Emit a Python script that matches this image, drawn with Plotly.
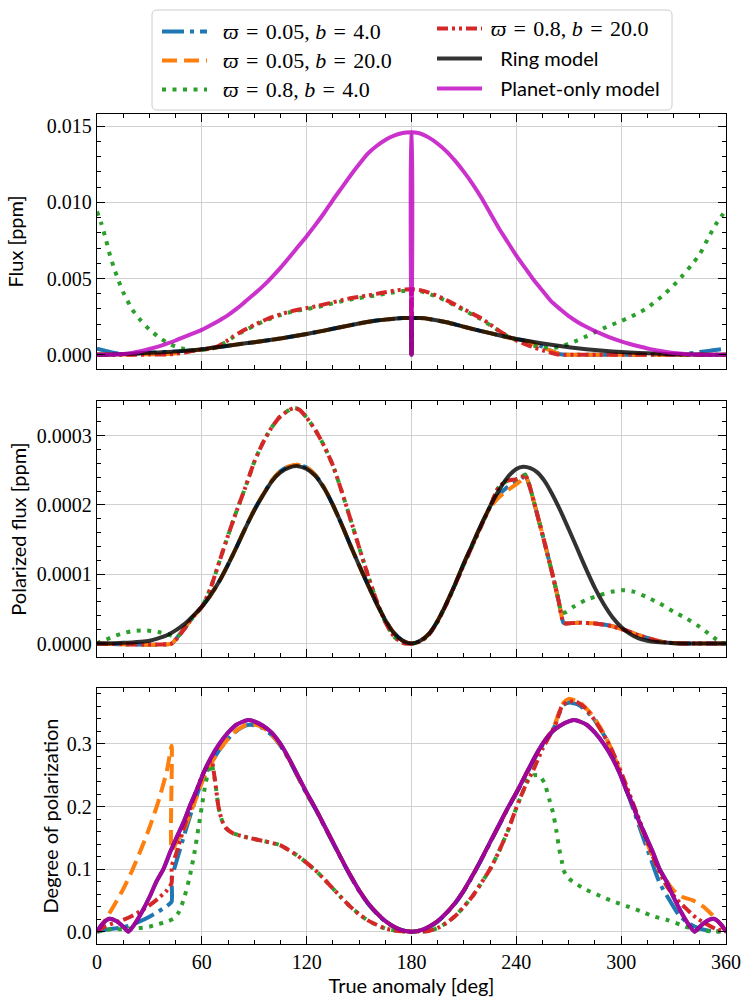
import plotly.graph_objects as go

# ------------------------------------------------------------------ data
# Legend labels
SP = "\u2004"  # three-per-em space (TeX-like spacing around '=')
SERIF22 = '<span style="font-family:Liberation Serif;font-size:22px">'
NAME_B1 = SERIF22 + f"\u2002<i>ϖ</i>{SP}={SP}0.05, <i>b</i>{SP}={SP}4.0</span>"
NAME_B2 = SERIF22 + f"\u2002<i>ϖ</i>{SP}={SP}0.05, <i>b</i>{SP}={SP}20.0</span>"
NAME_G = SERIF22 + f"\u2002<i>ϖ</i>{SP}={SP}0.8, <i>b</i>{SP}={SP}4.0</span>"
NAME_R = SERIF22 + f"\u2006<i>ϖ</i>{SP}={SP}0.8, <i>b</i>{SP}={SP}20.0</span>"
NAME_RING = '<span style="font-family:Liberation Serif">\u2002\u2006</span>Ring model'
NAME_PLANET = '<span style="font-family:Liberation Serif">\u2002\u2006</span>Planet-only model'

X_TICKS = [0, 60, 120, 180, 240, 300, 360]

# ---- Flux [ppm]
FLUX_RING_X = [0,10,20,30,40,50,60,70,80,90,100,110,120,130,140,150,160,170,175,179.5,179.9,180,180.1,180.5,185,190,200,210,220,230,240,250,260,270,280,290,300,310,320,330,340,350,360]
FLUX_RING_Y = [0,0.00002,0.00006,0.00012,0.00018,0.00025,0.00036,0.00051,0.00067,0.00082,0.00098,0.00116,0.00136,0.00158,0.00182,0.00205,0.00224,0.00236,0.0024,0.00241,0.00241,0,0.00241,0.00241,0.0024,0.00234,0.00213,0.00183,0.00155,0.00128,0.00103,0.00083,0.00065,0.00049,0.00036,0.00026,0.000175,0.00011,0.00007,0.00003,0.00001,0.000002,0]

FLUX_PLANET_X = [0,10,15,20,25,30,35,40,45,50,55,60,65,70,75,80,85,90,95,100,105,110,115,120,125,130,135,140,145,150,155,160,165,170,175,179.5,179.9,180,180.1,180.5,185,190,195,200,205,210,215,220,225,230,235,240,245,250,255,260,265,270,275,280,285,290,295,300,305,310,315,320,325,330,335,340,345,350,360]
FLUX_PLANET_Y = [0,0.00001,0.00004,0.00012,0.00023,0.00037,0.00053,0.00072,0.00093,0.00117,0.0014,0.00163,0.00193,0.00225,0.0026,0.00302,0.0035,0.00398,0.0045,0.00508,0.0057,0.00638,0.00708,0.00778,0.00852,0.0093,0.01015,0.01095,0.01175,0.0125,0.0132,0.0137,0.0141,0.01438,0.01455,0.0146,0.0146,0,0.0146,0.0146,0.01452,0.01425,0.01385,0.01335,0.01272,0.012,0.0112,0.0103,0.0093,0.0083,0.0074,0.0065,0.0057,0.0049,0.0042,0.0035,0.003,0.00253,0.00215,0.00183,0.00155,0.0013,0.00107,0.00087,0.0007,0.00055,0.00041,0.00029,0.00019,0.00011,0.00006,0.00002,0.000005,0,0]

FLUX_B1_X = [0,5,10,15,20,30,40,50,60,70,80,90,100,110,120,130,140,150,160,170,175,179.5,179.9,180,180.1,180.5,185,190,200,210,220,230,240,245,250,255,260,265,268,300,330,335,340,345,350,355,360]
FLUX_B1_Y = [0.0004,0.00025,0.00011,0.00004,0.00006,0.00012,0.00018,0.00025,0.00036,0.00051,0.00067,0.00082,0.00098,0.00116,0.00136,0.00158,0.00182,0.00205,0.00224,0.00236,0.0024,0.00241,0.00241,0,0.00241,0.00241,0.0024,0.00234,0.00213,0.00183,0.00155,0.00128,0.00102,0.00092,0.00075,0.00052,0.00025,0.00004,0,0,0,0.00004,0.0001,0.00017,0.00025,0.00033,0.0004]

FLUX_B2_X = [0,20,40,45,50,55,60,70,80,90,100,110,120,130,140,150,160,170,175,179.5,179.9,180,180.1,180.5,185,190,200,210,220,230,240,245,250,255,260,265,268,300,330,360]
FLUX_B2_Y = [0.00001,0.00002,0.00004,0.00009,0.00018,0.00027,0.00035,0.00051,0.00067,0.00082,0.00098,0.00116,0.00136,0.00158,0.00182,0.00205,0.00224,0.00236,0.0024,0.00241,0.00241,0,0.00241,0.00241,0.0024,0.00234,0.00213,0.00183,0.00155,0.00128,0.00101,0.0009,0.00073,0.0005,0.00024,0.00004,0,0,0,0]

FLUX_G_X = [0,2.5,5,7.5,10,12.5,15,20,25,30,35,40,45,50,55,60,64,67,70,72,74,78,82,86,90,95,100,105,110,115,120,125,130,135,140,145,150,155,160,165,170,175,179.5,179.9,180,180.1,180.5,185,190,195,200,205,210,215,220,225,230,235,240,245,250,255,260,265,270,275,280,285,290,295,300,305,310,315,320,325,330,335,340,345,350,355,360]
FLUX_G_Y = [0.0094,0.0086,0.0076,0.0065,0.0056,0.0048,0.0041,0.003,0.00225,0.00165,0.00118,0.0008,0.00053,0.00037,0.00028,0.0003,0.00036,0.00043,0.00057,0.0007,0.00084,0.00115,0.00142,0.00167,0.0019,0.00217,0.0024,0.0026,0.00277,0.0029,0.003,0.0031,0.00323,0.00337,0.0035,0.00362,0.00372,0.00381,0.0039,0.004,0.0041,0.00418,0.0042,0.0042,0,0.0042,0.0042,0.00416,0.004,0.00378,0.00352,0.00322,0.00292,0.00262,0.00232,0.00194,0.00156,0.00122,0.00095,0.00074,0.00058,0.00047,0.00045,0.0005,0.00072,0.00094,0.0012,0.00148,0.00174,0.00198,0.00221,0.00246,0.00274,0.00308,0.00352,0.004,0.00455,0.00517,0.00585,0.0066,0.0077,0.0087,0.0095]

FLUX_R_X = [0,20,30,40,45,50,55,60,64,67,70,72,74,78,82,86,90,95,100,105,110,115,120,125,130,135,140,145,150,155,160,165,170,175,179.5,179.9,180,180.1,180.5,185,190,195,200,205,210,215,220,225,230,235,240,245,250,255,260,263,266,300,330,360]
FLUX_R_Y = [0,0,0.000005,0.00002,0.00006,0.00014,0.00025,0.00034,0.00038,0.00045,0.0006,0.00074,0.00088,0.0012,0.00148,0.00172,0.00195,0.00222,0.00246,0.00265,0.00282,0.00295,0.00306,0.00317,0.0033,0.00344,0.00358,0.0037,0.0038,0.00389,0.00399,0.0041,0.0042,0.00427,0.0043,0.0043,0,0.0043,0.0043,0.00424,0.00408,0.00385,0.00358,0.00328,0.00298,0.00268,0.00238,0.00198,0.00158,0.00122,0.00093,0.0007,0.00047,0.00029,0.00012,0.00003,0,0,0,0]

# ---- Polarized flux [ppm]
POL_RING_X = [0,10,15,20,25,30,35,40,45,50,55,60,65,70,75,80,85,90,95,100,105,110,115,120,125,130,135,140,145,150,155,160,165,170,175,180,185,190,195,200,205,210,215,220,225,230,235,240,244,248,252,256,260,265,270,275,280,285,290,295,300,305,310,315,320,330,340,360]
POL_RING_Y = [0,0.5e-6,1e-6,1.6e-6,2.5e-6,4e-6,7.5e-6,12e-6,19e-6,28e-6,40e-6,53e-6,70e-6,90e-6,114e-6,140e-6,167e-6,192e-6,214e-6,234e-6,247e-6,254e-6,256e-6,252e-6,242e-6,224e-6,200e-6,172e-6,142e-6,113e-6,85e-6,58e-6,34e-6,15e-6,4e-6,0,4e-6,14e-6,33e-6,58e-6,86e-6,116e-6,144e-6,172e-6,198e-6,221e-6,240e-6,252e-6,255e-6,253e-6,247e-6,235e-6,218e-6,193e-6,165e-6,136e-6,107e-6,80e-6,57e-6,38e-6,24e-6,14e-6,7.5e-6,4e-6,2.2e-6,0.6e-6,0.1e-6,0]

POL_B1_X = [0,42.7,45,50,55,58,60,65,70,75,80,85,90,95,100,105,110,115,120,125,130,135,140,145,150,155,160,165,170,175,180,185,190,195,200,205,210,215,220,225,230,235,240,243,245,247.5,250,255,260,264,267,268.5,275,285,295,300,305,310,315,320,325,330,340,360]
POL_B1_Y = [0,0,6e-6,22e-6,38e-6,47e-6,53e-6,70e-6,90e-6,114e-6,140e-6,167e-6,193e-6,215e-6,235e-6,249e-6,256e-6,258e-6,254e-6,243e-6,225e-6,200e-6,172e-6,142e-6,113e-6,85e-6,58e-6,34e-6,15e-6,4e-6,0,4e-6,14e-6,33e-6,58e-6,86e-6,116e-6,144e-6,172e-6,197e-6,214e-6,226e-6,233e-6,238e-6,243e-6,228e-6,205e-6,157e-6,107e-6,64e-6,30e-6,29e-6,30e-6,29e-6,25e-6,21e-6,17e-6,12e-6,8e-6,4.5e-6,2e-6,0.7e-6,0,0]

POL_B2_X = [0,42.7,45,50,55,58,60,65,70,75,80,85,90,95,100,105,110,115,120,125,130,135,140,145,150,155,160,165,170,175,180,185,190,195,200,205,210,215,220,225,230,235,240,243,245,247.5,250,255,260,264,267,268.5,275,285,295,300,305,310,315,320,325,330,340,360]
POL_B2_Y = [0,0,6e-6,22e-6,38e-6,47e-6,53e-6,70e-6,90e-6,114e-6,140e-6,167e-6,193e-6,215e-6,235e-6,249e-6,256e-6,258e-6,254e-6,243e-6,225e-6,200e-6,172e-6,142e-6,113e-6,85e-6,58e-6,34e-6,15e-6,4e-6,0,4e-6,14e-6,33e-6,58e-6,86e-6,116e-6,144e-6,172e-6,196e-6,211e-6,221e-6,230e-6,236e-6,243e-6,228e-6,205e-6,157e-6,107e-6,64e-6,30e-6,29e-6,30e-6,29e-6,25e-6,21e-6,17e-6,12e-6,8e-6,4.5e-6,2e-6,0.7e-6,0,0]

POL_G_X = [0,2,5,10,15,20,25,30,35,40,43,46,50,55,60,65,70,75,80,85,90,95,100,105,110,113,116,120,125,130,135,140,145,150,155,160,165,170,175,180,185,190,195,200,205,210,215,220,225,230,235,240,243,245,247.5,250,255,260,264,266,268,272.6,280,288,295,301,307,314.6,322,330,337.5,345,350,354.6,359.4,360]
POL_G_Y = [0,3e-6,5.5e-6,11e-6,15e-6,17.8e-6,18.8e-6,18.5e-6,16.8e-6,14e-6,11e-6,10e-6,21e-6,39e-6,53e-6,80e-6,118e-6,156e-6,192e-6,226e-6,262e-6,290e-6,312e-6,328e-6,337e-6,340e-6,337e-6,326e-6,308e-6,285e-6,257e-6,220e-6,180e-6,139e-6,99e-6,62e-6,31e-6,10e-6,1e-6,0,3e-6,13e-6,32e-6,57e-6,85e-6,114e-6,142e-6,170e-6,198e-6,226e-6,235e-6,237e-6,240e-6,244e-6,228e-6,205e-6,157e-6,107e-6,64e-6,44e-6,45e-6,53e-6,63e-6,70e-6,75e-6,77e-6,75e-6,67e-6,58e-6,46e-6,36e-6,24e-6,14.4e-6,5.8e-6,0,0]

POL_R_X = [0,42.7,45,50,55,60,65,70,75,80,85,90,95,100,105,110,113,116,120,125,130,135,140,145,150,155,160,165,170,175,180,185,190,195,200,205,210,215,220,225,230,235,240,243,245,247.5,250,255,260,264,267,268.5,275,285,295,300,305,310,315,320,325,330,340,360]
POL_R_Y = [0,0,5e-6,21e-6,39e-6,53e-6,80e-6,118e-6,156e-6,192e-6,226e-6,262e-6,290e-6,312e-6,328e-6,337e-6,340e-6,337e-6,326e-6,308e-6,285e-6,257e-6,220e-6,180e-6,139e-6,99e-6,62e-6,31e-6,10e-6,1e-6,0,3e-6,13e-6,32e-6,57e-6,85e-6,114e-6,142e-6,170e-6,198e-6,226e-6,235e-6,237e-6,240e-6,244e-6,228e-6,205e-6,157e-6,107e-6,64e-6,30e-6,29e-6,30e-6,29e-6,25e-6,21e-6,17e-6,12e-6,8e-6,4.5e-6,2e-6,0.7e-6,0,0]

# ---- Degree of polarization
DOP_RING_X = [0,3,7,11,15,18,22,26,30,34,38,42,46,50,53,57,61,65,70,75,80,86,90,95,100,105,110,115,120,125,130,135,140,145,150,155,160,165,170,175,180,185,190,195,200,205,210,215,220,225,230,235,240,245,250,255,260,265,270,274,280,285,290,295,299,303,307,310,314,318,322,326,330,334,338,342,345,349,353,357,360]
DOP_RING_Y = [0,0.012,0.0205,0.017,0.008,0,0.014,0.033,0.055,0.08,0.1,0.128,0.153,0.178,0.2,0.226,0.254,0.277,0.3,0.318,0.331,0.338,0.336,0.329,0.318,0.3,0.276,0.249,0.222,0.197,0.17,0.143,0.116,0.09,0.066,0.046,0.03,0.017,0.008,0.002,0,0.002,0.008,0.017,0.03,0.046,0.066,0.09,0.116,0.143,0.17,0.197,0.222,0.249,0.276,0.3,0.318,0.329,0.336,0.338,0.331,0.318,0.3,0.277,0.254,0.226,0.2,0.178,0.153,0.128,0.1,0.08,0.055,0.033,0.014,0,0.008,0.017,0.0205,0.012,0]

DOP_PLANET_X = [0,3,7,11,15,18,22,26,30,34,38,42,46,50,53,57,61,65,70,75,80,86,90,95,100,105,110,115,120,125,130,135,140,145,150,155,160,165,170,175,180,185,190,195,200,205,210,215,220,225,230,235,240,245,250,255,260,265,270,274,280,285,290,295,299,303,307,310,314,318,322,326,330,334,338,342,345,349,353,357,360]
DOP_PLANET_Y = [0,0.012,0.0205,0.017,0.008,0,0.014,0.033,0.055,0.08,0.1,0.128,0.153,0.178,0.2,0.226,0.254,0.277,0.3,0.318,0.331,0.338,0.336,0.329,0.318,0.3,0.276,0.249,0.222,0.197,0.17,0.143,0.116,0.09,0.066,0.046,0.03,0.017,0.008,0.002,0,0.002,0.008,0.017,0.03,0.046,0.066,0.09,0.116,0.143,0.17,0.197,0.222,0.249,0.276,0.3,0.318,0.329,0.336,0.338,0.331,0.318,0.3,0.277,0.254,0.226,0.2,0.178,0.153,0.128,0.1,0.08,0.055,0.033,0.014,0,0.008,0.017,0.0205,0.012,0]

DOP_B1_X = [0,5,10,15,20,25,30,35,40,42.7,42.8,45,50,55,60,65,70,75,80,86,90,95,100,105,110,115,120,125,130,135,140,145,150,155,160,165,170,175,180,185,190,195,200,205,210,215,220,225,230,235,240,245,250,255,258,261,264,267,270,276,284,292,299,305,311,316.5,322,328,333.5,339.5,345,352,360]
DOP_B1_Y = [0,0.003,0.005,0.007,0.011,0.017,0.024,0.032,0.041,0.048,0.085,0.108,0.155,0.2,0.24,0.268,0.29,0.308,0.321,0.33,0.33,0.325,0.314,0.297,0.274,0.247,0.22,0.196,0.169,0.142,0.115,0.089,0.065,0.045,0.029,0.016,0.007,0.002,0,0.002,0.007,0.016,0.029,0.045,0.065,0.089,0.115,0.142,0.169,0.196,0.221,0.247,0.274,0.298,0.31,0.322,0.345,0.362,0.366,0.362,0.341,0.305,0.255,0.211,0.163,0.12,0.078,0.049,0.025,0.012,0.005,0.001,0]

DOP_B2_X = [0,5,10,15,20,25,30,35,40,42.7,42.8,45,50,55,60,65,70,75,80,86,90,95,100,105,110,115,120,125,130,135,140,145,150,155,160,165,170,175,180,185,190,195,200,205,210,215,220,225,230,235,240,245,250,255,258,261,264,267,270,276,284,290,295.5,301,307,312.6,318.4,324,330,335.5,341,347,352.7,358.5,360]
DOP_B2_Y = [0,0.02,0.043,0.068,0.097,0.13,0.166,0.207,0.257,0.297,0.13,0.14,0.165,0.2,0.238,0.267,0.29,0.308,0.322,0.331,0.331,0.326,0.315,0.298,0.275,0.248,0.221,0.197,0.17,0.143,0.116,0.09,0.066,0.046,0.03,0.017,0.008,0.002,0,0.002,0.008,0.017,0.03,0.046,0.066,0.09,0.116,0.143,0.17,0.197,0.222,0.249,0.276,0.3,0.312,0.323,0.347,0.366,0.372,0.367,0.344,0.317,0.285,0.243,0.2,0.158,0.118,0.089,0.066,0.055,0.05,0.04,0.025,0.006,0]

DOP_G_X = [0,5,10,15,20,25,30,35,40,44,47,50,53,56,58,60,62,64,65.5,67.5,69.5,71.5,74,78,84,90,95,100,105,110,115,120,125,130,135,140,145,150,155,160,165,170,175,180,185,190,195,200,205,210,215,220,225,230,235,240,245,247,250,253,256,259,261,263,264.6,266,267,270,275,280,288,295,303,311,318,326,334,339,345,352,360]
DOP_G_Y = [0,0.003,0.004,0.004,0.005,0.006,0.008,0.012,0.016,0.021,0.032,0.055,0.087,0.13,0.165,0.2,0.235,0.258,0.268,0.242,0.2,0.178,0.165,0.157,0.152,0.148,0.145,0.142,0.138,0.13,0.121,0.11,0.098,0.084,0.069,0.054,0.04,0.028,0.018,0.011,0.005,0.002,0.0005,0,0.0003,0.001,0.006,0.014,0.025,0.04,0.057,0.078,0.1,0.128,0.16,0.198,0.232,0.245,0.25,0.25,0.238,0.21,0.19,0.16,0.131,0.113,0.098,0.085,0.075,0.067,0.057,0.049,0.041,0.033,0.025,0.019,0.011,0.006,0.003,0.0005,0]

DOP_R_X = [0,5,10,15,20,25,30,35,40,42.7,42.8,45,50,55,60,63,65.5,67.5,69.5,71.5,74,78,84,90,95,100,105,110,115,120,125,130,135,140,145,150,155,160,165,170,175,180,185,190,195,200,205,210,215,220,225,230,235,240,245,250,255,260,263,266,269,274,280,286,292,297,303,309,314.5,320,326,332,337.5,343,349,354.5,360]
DOP_R_Y = [0,0.009,0.014,0.019,0.025,0.033,0.042,0.053,0.066,0.078,0.105,0.122,0.168,0.21,0.248,0.264,0.274,0.242,0.2,0.178,0.165,0.157,0.152,0.148,0.145,0.142,0.138,0.13,0.121,0.11,0.098,0.084,0.069,0.054,0.04,0.028,0.018,0.011,0.005,0.002,0.0005,0,0.0003,0.001,0.006,0.014,0.025,0.04,0.057,0.078,0.1,0.128,0.16,0.198,0.232,0.26,0.292,0.318,0.335,0.36,0.367,0.368,0.356,0.333,0.305,0.276,0.233,0.189,0.148,0.107,0.073,0.051,0.036,0.022,0.012,0.004,0]

# ------------------------------------------------------------------ styling
W, H = 750, 1006
ML, MR, MT, MB = 97, 24, 114, 62
PW, PH = W - ML - MR, H - MT - MB


def fx(px):
    return (px - ML) / PW


def fy(px):
    return (H - MB - px) / PH


STYLE = {
    "b1": dict(color="#1f77b4", dash="22px,6px,4px,6px", opacity=1.0, name=NAME_B1, legend="legend", rank=1),
    "b2": dict(color="#ff7f0e", dash="15px,7px", opacity=1.0, name=NAME_B2, legend="legend", rank=2),
    "g": dict(color="#2ca02c", dash="4px,6.5px", opacity=1.0, name=NAME_G, legend="legend", rank=3),
    "r": dict(color="#d62728", dash="11px,4px,3px,4px,3px,4px", opacity=1.0, name=NAME_R, legend="legend2", rank=4),
    "ring": dict(color="#000000", dash="solid", opacity=0.8, name=NAME_RING, legend="legend2", rank=5),
    "planet": dict(color="#bf00bf", dash="solid", opacity=0.8, name=NAME_PLANET, legend="legend2", rank=6),
}
LW = 4

PANELS = [
    ("y", [("b1", FLUX_B1_X, FLUX_B1_Y), ("b2", FLUX_B2_X, FLUX_B2_Y), ("g", FLUX_G_X, FLUX_G_Y),
           ("r", FLUX_R_X, FLUX_R_Y), ("ring", FLUX_RING_X, FLUX_RING_Y), ("planet", FLUX_PLANET_X, FLUX_PLANET_Y)]),
    ("y2", [("b1", POL_B1_X, POL_B1_Y), ("b2", POL_B2_X, POL_B2_Y), ("g", POL_G_X, POL_G_Y),
            ("r", POL_R_X, POL_R_Y), ("ring", POL_RING_X, POL_RING_Y)]),
    ("y3", [("b1", DOP_B1_X, DOP_B1_Y), ("b2", DOP_B2_X, DOP_B2_Y), ("g", DOP_G_X, DOP_G_Y),
            ("r", DOP_R_X, DOP_R_Y), ("ring", DOP_RING_X, DOP_RING_Y), ("planet", DOP_PLANET_X, DOP_PLANET_Y)]),
]
XREF = {"y": "x", "y2": "x2", "y3": "x3"}

fig = go.Figure()
for yref, series in PANELS:
    for key, xs, ys in series:
        s = STYLE[key]
        fig.add_trace(go.Scatter(
            x=xs, y=ys, mode="lines", xaxis=XREF[yref], yaxis=yref,
            line=dict(color=s["color"], width=LW, dash=s["dash"], shape="spline", smoothing=0.6),
            opacity=s["opacity"], name=s["name"],
            showlegend=(yref == "y"), legend=s["legend"], legendgroup=key,
            legendrank=s["rank"], hoverinfo="skip",
        ))

TICK_FONT = dict(family="Liberation Serif", size=20, color="black")
TITLE_FONT = dict(family="Lato", size=20, color="black")
GRID = "#d0d0d0"

common = dict(
    ticks="inside", ticklen=8, tickwidth=1.2, tickcolor="black",
    showline=True, linecolor="black", linewidth=1.3, mirror="allticks",
    showgrid=True, gridcolor=GRID, gridwidth=1, zeroline=False,
    tickfont=TICK_FONT, automargin=False,
)


def xax(show_labels, title=None):
    d = dict(common, range=[0, 360], tickmode="array", tickvals=X_TICKS,
             ticktext=[str(v) for v in X_TICKS], showticklabels=show_labels,
             minor=dict(ticks="inside", ticklen=4, tickwidth=1, tickcolor="black", dtick=15, tick0=0, showgrid=False))
    if title:
        d["title"] = dict(text=title, font=TITLE_FONT, standoff=5)
    return d


def yax(domain, rng, dtick, mdtick, fmt, title, standoff):
    return dict(common, domain=domain, range=rng, dtick=dtick, tick0=0, tickformat=fmt,
                minor=dict(ticks="inside", ticklen=4, tickwidth=1, tickcolor="black", dtick=mdtick, tick0=0, showgrid=False),
                title=dict(text=title, font=TITLE_FONT, standoff=standoff))


r = 5
x0, x1, y0, y1 = fx(152), fx(672), fy(110), fy(10)
rx, ry = r / PW, r / PH
box_path = (f"M{x0+rx},{y0} L{x1-rx},{y0} Q{x1},{y0} {x1},{y0+ry} L{x1},{y1-ry} Q{x1},{y1} {x1-rx},{y1} "
            f"L{x0+rx},{y1} Q{x0},{y1} {x0},{y1-ry} L{x0},{y0+ry} Q{x0},{y0} {x0+rx},{y0} Z")

fig.update_layout(
    width=W, height=H, autosize=False,
    margin=dict(l=ML, r=MR, t=MT, b=MB, autoexpand=False),
    paper_bgcolor="white", plot_bgcolor="white",
    xaxis=dict(xax(False), anchor="y"),
    xaxis2=dict(xax(False), anchor="y2", matches="x"),
    xaxis3=dict(xax(True, "True anomaly [deg]"), anchor="y3", matches="x"),
    yaxis=yax([fy(369), 1.0], [-0.00094, 0.0158], 0.005, 0.001, ".3f", "Flux [ppm]", 17),
    yaxis2=yax([fy(657), fy(401)], [-0.0000194, 0.00035], 0.0001, 0.00002, ".4f", "Polarized flux [ppm]", 4),
    yaxis3=yax([0.0, fy(688)], [-0.0197, 0.3894], 0.1, 0.02, ".1f", "Degree of polarization", 2),
    legend=dict(x=fx(157), y=fy(12), xanchor="left", yanchor="top", orientation="v",
                bgcolor="rgba(0,0,0,0)", borderwidth=0, itemwidth=45, tracegroupgap=0,
                font=dict(family="Liberation Serif", size=20, color="black")),
    legend2=dict(x=fx(432), y=fy(9), xanchor="left", yanchor="top", orientation="v",
                 bgcolor="rgba(0,0,0,0)", borderwidth=0, itemwidth=45, tracegroupgap=1,
                 font=dict(family="Lato", size=20, color="black")),
    shapes=[dict(type="path", path=box_path, xref="paper", yref="paper",
                 line=dict(color="#cccccc", width=1), fillcolor="rgba(0,0,0,0)", layer="below")],
    showlegend=True,
)

# The default HTML page has an 8px body margin; remove it so the 750x1006
# figure fills the window exactly.
fig.write_html("out.html", config={"displayModeBar": False},
               post_script="document.body.style.margin='0px';document.body.style.overflow='hidden';")
